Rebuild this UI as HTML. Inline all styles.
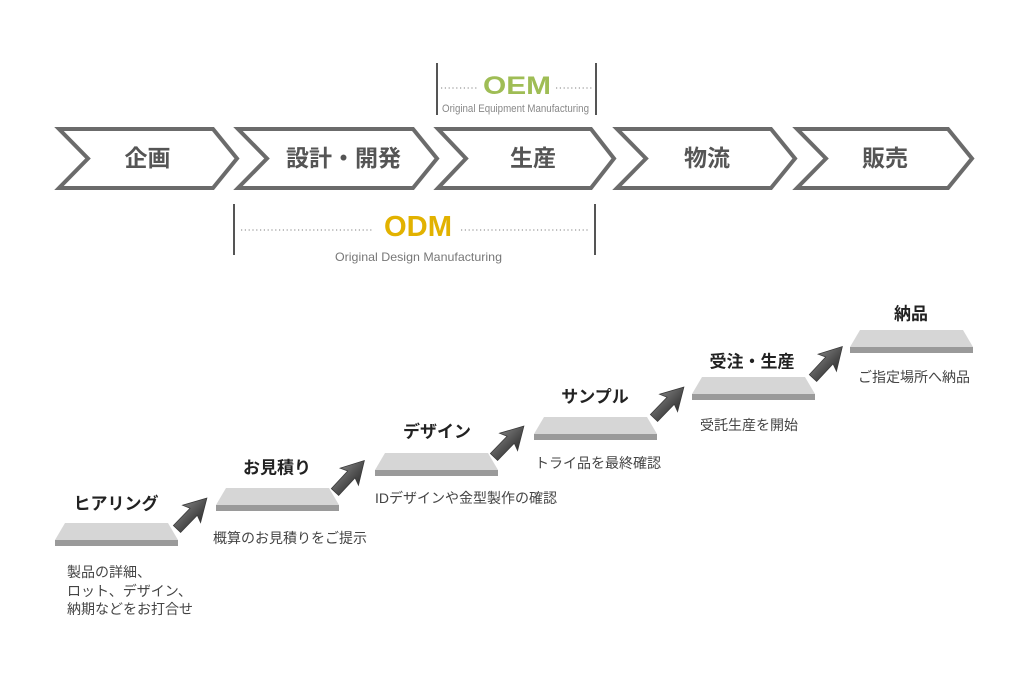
<!DOCTYPE html>
<html>
<head>
<meta charset="utf-8">
<style>
html,body{margin:0;padding:0;background:#fff;}
body{width:1024px;height:682px;overflow:hidden;}
svg{display:block;}
.jp{font-family:"Liberation Sans","Noto Sans CJK JP",sans-serif;}
.en{font-family:"Liberation Sans",sans-serif;}
</style>
</head>
<body>
<svg width="1024" height="682" viewBox="0 0 1024 682" xmlns="http://www.w3.org/2000/svg">
  <defs>
    <linearGradient id="ag" x1="0" y1="0" x2="0" y2="1">
      <stop offset="0" stop-color="#7a7a7a"/>
      <stop offset="0.5" stop-color="#555"/>
      <stop offset="1" stop-color="#333"/>
    </linearGradient>
    <g id="arrow">
      <polygon points="0,-5 24,-5 21,-12.5 43,0 21,12.5 24,5 0,5" fill="url(#ag)" stroke="#3a3a3a" stroke-width="0.8" stroke-linejoin="miter"/>
    </g>
  </defs>

  <!-- OEM bracket -->
  <line x1="437" y1="63" x2="437" y2="115" stroke="#555" stroke-width="2"/>
  <line x1="596" y1="63" x2="596" y2="115" stroke="#555" stroke-width="2"/>
  <line x1="441" y1="88" x2="477" y2="88" stroke="#999" stroke-width="1.3" stroke-dasharray="1.2 2.6"/>
  <line x1="556" y1="88" x2="593" y2="88" stroke="#999" stroke-width="1.3" stroke-dasharray="1.2 2.6"/>
  <text class="en" x="483" y="94" font-size="25" font-weight="bold" fill="#9fbd55" textLength="68" lengthAdjust="spacingAndGlyphs">OEM</text>
  <text class="en" x="442" y="112" font-size="11" fill="#888" textLength="147" lengthAdjust="spacingAndGlyphs">Original Equipment Manufacturing</text>

  <!-- Chevrons -->
  <g fill="#fff" stroke="#6b6b6b" stroke-width="4" stroke-linejoin="miter" stroke-miterlimit="10">
    <polygon points="59,129 213,129 237,158.5 213,188 59,188 88,158.5"/>
    <polygon points="238,129 413,129 437,158.5 413,188 238,188 267,158.5"/>
    <polygon points="438,129 591,129 614,158.5 591,188 438,188 466,158.5"/>
    <polygon points="617,129 771,129 795,158.5 771,188 617,188 646,158.5"/>
    <polygon points="797,129 948,129 972,158.5 948,188 797,188 826,158.5"/>
  </g>
  <g class="jp" font-size="23" font-weight="bold" fill="#555" text-anchor="middle">
    <text x="147.5" y="166">企画</text>
    <text x="343.5" y="166">設計・開発</text>
    <text x="533" y="166">生産</text>
    <text x="707" y="166">物流</text>
    <text x="885" y="166">販売</text>
  </g>

  <!-- ODM bracket -->
  <line x1="234" y1="204" x2="234" y2="255" stroke="#555" stroke-width="2"/>
  <line x1="595" y1="204" x2="595" y2="255" stroke="#555" stroke-width="2"/>
  <line x1="241" y1="230" x2="373" y2="230" stroke="#999" stroke-width="1.3" stroke-dasharray="1.2 2.6"/>
  <line x1="461" y1="230" x2="590" y2="230" stroke="#999" stroke-width="1.3" stroke-dasharray="1.2 2.6"/>
  <text class="en" x="384" y="236" font-size="29" font-weight="bold" fill="#e2b200" textLength="68" lengthAdjust="spacingAndGlyphs">ODM</text>
  <text class="en" x="335" y="261" font-size="12" fill="#777" textLength="167" lengthAdjust="spacingAndGlyphs">Original Design Manufacturing</text>

  <!-- Platforms -->
  <g>
    <polygon points="65,523 168,523 178,540 55,540" fill="#d6d6d6"/>
    <rect x="55" y="540" width="123" height="6" fill="#9a9a9a"/>

    <polygon points="226,488 329,488 339,505 216,505" fill="#d6d6d6"/>
    <rect x="216" y="505" width="123" height="6" fill="#9a9a9a"/>

    <polygon points="385,453 488,453 498,470 375,470" fill="#d6d6d6"/>
    <rect x="375" y="470" width="123" height="6" fill="#9a9a9a"/>

    <polygon points="544,417 647,417 657,434 534,434" fill="#d6d6d6"/>
    <rect x="534" y="434" width="123" height="6" fill="#9a9a9a"/>

    <polygon points="702,377 805,377 815,394 692,394" fill="#d6d6d6"/>
    <rect x="692" y="394" width="123" height="6" fill="#9a9a9a"/>

    <polygon points="860,330 963,330 973,347 850,347" fill="#d6d6d6"/>
    <rect x="850" y="347" width="123" height="6" fill="#9a9a9a"/>
  </g>

  <!-- Arrows -->
  <use href="#arrow" transform="translate(177,529) rotate(-46)"/>
  <use href="#arrow" transform="translate(335,492) rotate(-47)"/>
  <use href="#arrow" transform="translate(494,457) rotate(-46)"/>
  <use href="#arrow" transform="translate(654,418) rotate(-46)"/>
  <use href="#arrow" transform="translate(813,378) rotate(-47)"/>

  <!-- Step titles -->
  <g class="jp" font-size="17" font-weight="bold" fill="#222" text-anchor="middle">
    <text x="116" y="509.5">ヒアリング</text>
    <text x="277" y="473.5">お見積り</text>
    <text x="437" y="437.5">デザイン</text>
    <text x="595" y="402.5">サンプル</text>
    <text x="752" y="367.5">受注・生産</text>
    <text x="911" y="319.5">納品</text>
  </g>

  <!-- Step descriptions -->
  <g class="jp" font-size="14" fill="#444">
    <text x="67" y="577">製品の詳細、</text>
    <text x="67" y="596">ロット、デザイン、</text>
    <text x="67" y="614">納期などをお打合せ</text>
    <text x="213" y="543">概算のお見積りをご提示</text>
    <text x="375" y="503">IDデザインや金型製作の確認</text>
    <text x="535" y="468">トライ品を最終確認</text>
    <text x="700" y="430">受託生産を開始</text>
    <text x="858" y="382">ご指定場所へ納品</text>
  </g>
</svg>
</body>
</html>
